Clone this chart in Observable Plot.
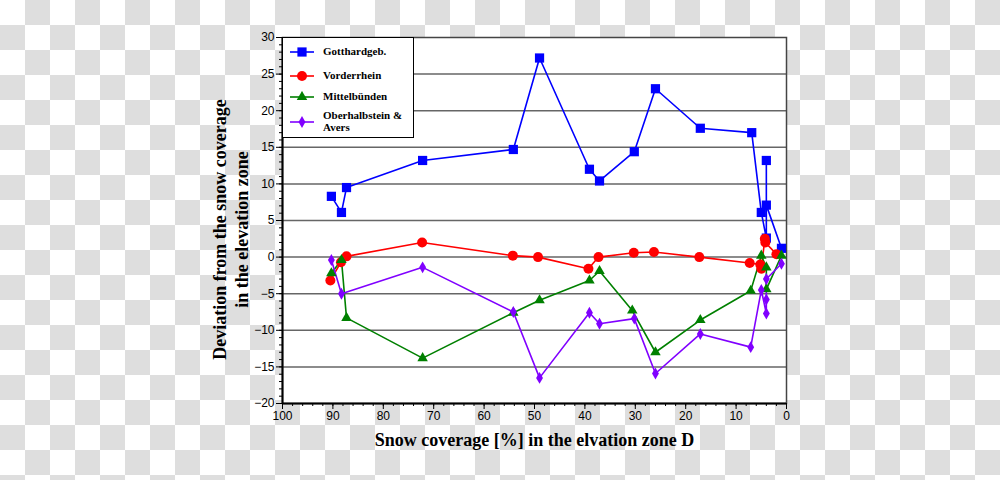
<!DOCTYPE html>
<html>
<head>
<meta charset="utf-8">
<script src="https://cdn.jsdelivr.net/npm/d3@7"></script>
<script src="https://cdn.jsdelivr.net/npm/@observablehq/plot@0.6"></script>
<style>
  html, body { margin: 0; padding: 0; }
  body {
    width: 1000px; height: 480px; overflow: hidden;
    background-color: #fff;
    background-image: conic-gradient(#dedede 0 25%, #ffffff 0 50%, #dedede 0 75%, #ffffff 0);
    background-size: 50px 50px;
  }
  #wrap { position: relative; width: 1000px; height: 480px; }
  #legend {
    position: absolute; left: 282px; top: 37px; width: 132px; height: 101px;
    box-sizing: border-box; border: 1.5px solid #000; background: #fff;
    font-family: "Liberation Serif", "Times New Roman", serif; font-weight: bold; font-size: 11px; color: #000;
  }
  .item { position: absolute; left: 0; }
  .item svg { position: absolute; left: 6px; }
  .item span { position: absolute; left: 40px; white-space: nowrap; line-height: 12px; }
</style>
</head>
<body>
<div id="wrap"><div id="legend"></div></div>
<script>
// ---- data ----
const seriesNames = ["Gotthardgeb.", "Vorderrhein", "Mittelbünden", "Oberhalbstein &\nAvers"];
const seriesColors = ["#0000ff", "#ff0000", "#008000", "#8000ff"];

const xGott = [90.3, 88.3, 87.3, 72.2, 54.2, 49.0, 39.1, 37.1, 30.2, 26.0, 17.1, 6.9, 5.0, 4.0, 4.0, 4.0, 1.0];
const yGott = [8.3, 6.1, 9.5, 13.2, 14.7, 27.2, 12.0, 10.4, 14.4, 23.0, 17.6, 17.0, 6.1, 2.6, 13.2, 7.1, 1.2];

const xVord = [90.5, 88.4, 87.3, 72.3, 54.3, 49.3, 39.3, 37.3, 30.3, 26.3, 17.3, 7.3, 5.2, 5.0, 4.3, 4.2, 2.0];
const yVord = [-3.2, -0.7, 0.1, 2.0, 0.2, 0.0, -1.6, 0.0, 0.6, 0.7, 0.0, -0.8, -1.0, -1.6, 2.5, 2.0, 0.4];

const xMitt = [90.3, 88.3, 87.3, 72.2, 54.2, 49.0, 39.1, 37.1, 30.6, 26.0, 17.1, 7.1, 5.0, 4.0, 4.0, 1.0];
const yMitt = [-2.2, -0.4, -8.3, -13.8, -7.6, -5.9, -3.2, -1.9, -7.3, -13.0, -8.6, -4.6, 0.2, -1.4, -4.4, 0.2];

const xOber = [90.3, 88.3, 72.2, 54.2, 49.0, 39.1, 37.1, 30.2, 26.0, 17.1, 7.1, 5.0, 4.0, 4.0, 4.0, 1.0];
const yOber = [-0.4, -5.0, -1.4, -7.5, -16.5, -7.6, -9.1, -8.4, -15.9, -10.5, -12.3, -4.5, -7.7, -5.8, -3.0, -0.9];

const xTicks = [100, 90, 80, 70, 60, 50, 40, 30, 20, 10, 0];
const yTicks = [-20, -15, -10, -5, 0, 5, 10, 15, 20, 25, 30];
const gridValues = [-15, -10, -5, 0, 5, 10, 15, 20, 25];

const xTitle = "Snow coverage [%] in the elvation zone D";
const yTitle = "Deviation from the snow coverage\nin the elevation zone";

// ---- build ----
const raw = [[xGott, yGott], [xVord, yVord], [xMitt, yMitt], [xOber, yOber]];
const symbols = ["square", "circle", "triangle", "diamond"];
const radii = [5.2, 5, 3.9, 3.6];
const series = seriesNames.map((name, i) => ({
  name, color: seriesColors[i], symbol: symbols[i], r: radii[i],
  data: raw[i][0].map((x, j) => ({series: name, x, y: raw[i][1][j]}))
}));

const sans = "'Liberation Sans', Arial, sans-serif";
const serif = "'Liberation Serif', 'Times New Roman', serif";

const marks = [
  Plot.frame({fill: "white"}),
  Plot.ruleY(gridValues, {stroke: "#666", strokeWidth: 1.5}),
  Plot.frame({stroke: "#444", strokeWidth: 1.5}),
  Plot.axisY(d3.range(-20, 31, 1), {tickSize: 3, text: null, stroke: "#000", label: null}),
  Plot.axisY(yTicks, {tickSize: 6, tickPadding: 2, fontSize: 12, fontFamily: sans, fill: "#000", stroke: "#000", label: null}),
  Plot.axisX(d3.range(0, 101, 2), {tickSize: 3, text: null, stroke: "#000", label: null}),
  Plot.axisX(xTicks, {tickSize: 6, tickPadding: 2, fontSize: 12, fontFamily: sans, fill: "#000", stroke: "#000", label: null}),
  Plot.ruleX([100], {stroke: "#000", strokeWidth: 2}),
  Plot.ruleY([-20], {stroke: "#000", strokeWidth: 2}),
  ...series.map(s => Plot.line(s.data, {x: "x", y: "y", stroke: s.color, strokeWidth: 1.6})),
  ...series.map(s => Plot.dot(s.data, {x: "x", y: "y", symbol: () => s.symbol, fill: s.color, stroke: "none", r: s.r})),
  Plot.text([xTitle], {text: d => d, frameAnchor: "bottom", dy: 37, lineAnchor: "middle", textAnchor: "middle",
    fontFamily: serif, fontWeight: "bold", fontSize: 18, fill: "#000"}),
  Plot.text([yTitle], {text: d => d, frameAnchor: "left", dx: -53, dy: 9, rotate: -90, lineAnchor: "middle", textAnchor: "middle",
    lineHeight: 1.22, fontFamily: serif, fontWeight: "bold", fontSize: 18, fill: "#000"})
];

const chart = Plot.plot({
  width: 1000, height: 480,
  marginLeft: 282, marginRight: 214, marginTop: 37, marginBottom: 77,
  style: {background: "transparent", overflow: "visible"},
  x: {domain: [100, 0], axis: null},
  y: {domain: [-20, 30], axis: null},
  symbol: {type: "identity"},
  marks
});
document.getElementById("wrap").prepend(chart);

// ---- legend ----
const legend = document.getElementById("legend");
const rowsY = [14, 38, 59, 84];
series.forEach((s, i) => {
  const item = document.createElement("div");
  item.className = "item";
  item.style.top = (rowsY[i] - 6) + "px";
  const sym = d3.symbol(s.symbol === "square" ? d3.symbolSquare : s.symbol === "circle" ? d3.symbolCircle :
                        s.symbol === "triangle" ? d3.symbolTriangle : d3.symbolDiamond, Math.PI * s.r * s.r)();
  item.innerHTML = `<svg width="26" height="12" viewBox="0 0 26 12"><line x1="1" y1="6" x2="25" y2="6" stroke="${s.color}" stroke-width="1.6"/>` +
    `<path transform="translate(13,6)" d="${sym}" fill="${s.color}"/></svg>`;
  const span = document.createElement("span");
  const lines = s.name.split("\n");
  span.innerHTML = lines.join("<br>");
  span.style.top = lines.length > 1 ? "-7px" : "-1px";
  item.appendChild(span);
  legend.appendChild(item);
});
</script>
</body>
</html>
